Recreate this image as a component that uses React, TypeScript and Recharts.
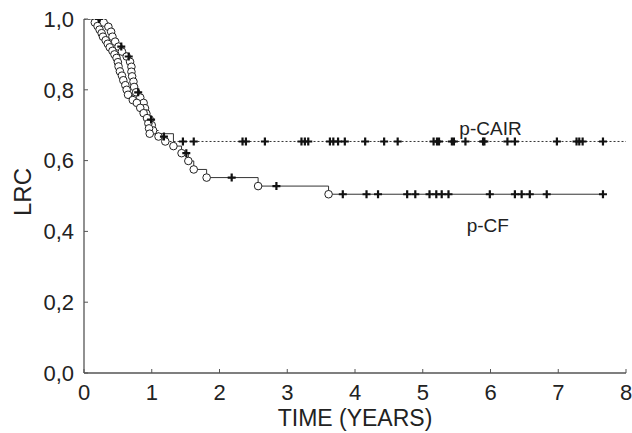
import React from 'react';
import {
  ComposedChart,
  Line,
  Scatter,
  XAxis,
  YAxis,
  ReferenceDot,
  Label,
} from 'recharts';

// Kaplan-Meier curves
const pcfTimes = [
  0.16, 0.2, 0.23, 0.26, 0.28, 0.32, 0.35, 0.38, 0.42, 0.45, 0.48, 0.5, 0.51, 0.53, 0.56, 0.58,
  0.61, 0.63, 0.65, 0.72, 0.78, 0.83, 0.88, 0.93, 0.95, 0.96, 0.97, 1.32, 1.44, 1.54, 1.62, 1.81,
  2.57, 3.61,
];
const pcfSurvival = [
  0.99, 0.98, 0.97, 0.96, 0.95, 0.94, 0.93, 0.92, 0.91, 0.9, 0.89, 0.878, 0.866, 0.852, 0.84, 0.827,
  0.813, 0.8, 0.786, 0.771, 0.763, 0.749, 0.734, 0.72, 0.705, 0.691, 0.676, 0.641, 0.621, 0.599,
  0.575, 0.552, 0.528, 0.505,
];
const pcfCensored = [
  1.51, 2.18, 2.84, 3.82, 4.17, 4.34, 4.77, 4.89, 5.1, 5.2, 5.28, 5.38, 5.99, 6.36, 6.46, 6.58, 6.83,
  7.66,
];
const pcfEnd = 7.66;

const pcairTimes = [
  0.29, 0.36, 0.4, 0.42, 0.46, 0.51, 0.56, 0.63, 0.68, 0.7, 0.7, 0.71, 0.73, 0.74, 0.77, 0.83, 0.88,
  0.9, 0.92, 0.97, 1.0, 1.02, 1.1, 1.2,
];
const pcairSurvival = [
  0.99, 0.978, 0.964, 0.95, 0.936, 0.922, 0.908, 0.894, 0.879, 0.865, 0.851, 0.838, 0.823, 0.808,
  0.793, 0.778, 0.763, 0.748, 0.733, 0.716, 0.7, 0.685, 0.668, 0.654,
];
const pcairCensored = [
  0.22, 0.55, 0.66, 0.8, 0.99, 1.18, 1.46, 1.62, 2.34, 2.39, 2.67, 3.21, 3.26, 3.31, 3.63, 3.68,
  3.75, 3.85, 4.15, 4.43, 4.63, 5.16, 5.21, 5.24, 5.43, 5.46, 5.63, 5.89, 5.91, 6.25, 6.36, 6.98,
  7.27, 7.31, 7.36, 7.66,
];
const pcairEnd = 8;

const xTicks = [0, 1, 2, 3, 4, 5, 6, 7, 8];
const yTicks = [0, 0.2, 0.4, 0.6, 0.8, 1.0];
// the frame's top and right ticks do not line up with the data scales
const topTicks = [1, 2, 3, 4, 5, 6, 7, 8];
const rightTicks = [1, 2, 3, 4, 5, 6, 7];

const levelAt = (times: number[], surv: number[], t: number) => {
  let s = 1;
  for (let i = 0; i < times.length; i++) if (times[i] <= t) s = surv[i];
  return s;
};

const curve = (times: number[], surv: number[], end: number) => [
  { t: 0, s: 1 },
  ...times.map((t, i) => ({ t, s: surv[i] })),
  { t: end, s: surv[surv.length - 1] },
];
const events = (times: number[], surv: number[]) => times.map((t, i) => ({ t, s: surv[i] }));
const censored = (list: number[], times: number[], surv: number[]) =>
  list.map((t) => ({ t, s: levelAt(times, surv, t) }));

const font = '"Liberation Sans", Arial, Helvetica, sans-serif';
const axisColor = '#555';

const OpenCircle = (props: any) => (
  <circle cx={props.cx} cy={props.cy} r={3.8} fill="#fff" stroke="#222" strokeWidth={1} />
);
const Plus = (props: any) => (
  <path
    d={`M${props.cx - 4},${props.cy}H${props.cx + 4}M${props.cx},${props.cy - 4}V${props.cy + 4}`}
    stroke="#111"
    strokeWidth={2.2}
    fill="none"
  />
);

const YTitle = (props: any) => {
  const { viewBox } = props;
  const x = viewBox.x + 22;
  const y = viewBox.y + viewBox.height / 2 - 4;
  return (
    <text x={x} y={y} transform={`rotate(-90 ${x} ${y})`} textAnchor="middle" dominantBaseline="central"
      fontFamily={font} fontSize={24} fill="#222">LRC</text>
  );
};
const XTitle = (props: any) => {
  const { viewBox } = props;
  return (
    <text x={viewBox.x + viewBox.width / 2} y={viewBox.y + 45} textAnchor="middle" dominantBaseline="central"
      fontFamily={font} fontSize={23} fill="#222">TIME (YEARS)</text>
  );
};

export default function App() {
  const tickStyle = { fontFamily: font, fontSize: 22, fill: '#222' };
  return (
    <div style={{ position: 'absolute', left: 0, top: 0 }}>
      <ComposedChart width={632} height={433} margin={{ top: 19, right: 6, bottom: 0, left: 0 }}>
        <XAxis dataKey="t" type="number" domain={[0, 8]} ticks={xTicks} allowDataOverflow
          height={60} tickSize={-4} tickMargin={15} tick={tickStyle}
          axisLine={{ stroke: axisColor, strokeWidth: 1.3 }} tickLine={{ stroke: axisColor }}>
          <Label content={<XTitle />} />
        </XAxis>
        <XAxis xAxisId="top" orientation="top" type="number" domain={[-0.24, 8.97]} ticks={topTicks}
          allowDataOverflow height={0} tickSize={-4} tick={false}
          axisLine={{ stroke: axisColor, strokeWidth: 1.3 }} tickLine={{ stroke: axisColor }} />
        <YAxis dataKey="s" type="number" domain={[0, 1]} ticks={yTicks} allowDataOverflow width={84}
          tickSize={-4} tickMargin={14} tick={tickStyle}
          tickFormatter={(v: number) => v.toFixed(1).replace('.', ',')}
          axisLine={{ stroke: axisColor, strokeWidth: 1.3 }} tickLine={{ stroke: axisColor }}>
          <Label content={<YTitle />} />
        </YAxis>
        <YAxis yAxisId="right" orientation="right" type="number" domain={[0.818, 7.277]} ticks={rightTicks}
          allowDataOverflow width={0} tickSize={-4} tick={false}
          axisLine={{ stroke: axisColor, strokeWidth: 1.3 }} tickLine={{ stroke: axisColor }} />

        <Line data={curve(pcairTimes, pcairSurvival, pcairEnd)} dataKey="s" type="stepAfter"
          stroke="#333" strokeWidth={1} strokeDasharray="2 2" dot={false} activeDot={false}
          isAnimationActive={false} />
        <Line data={curve(pcfTimes, pcfSurvival, pcfEnd)} dataKey="s" type="stepAfter"
          stroke="#333" strokeWidth={1} dot={false} activeDot={false} isAnimationActive={false} />

        <Scatter data={events(pcairTimes, pcairSurvival)} dataKey="s" shape={<OpenCircle />} isAnimationActive={false} />
        <Scatter data={events(pcfTimes, pcfSurvival)} dataKey="s" shape={<OpenCircle />} isAnimationActive={false} />
        <Scatter data={censored(pcairCensored, pcairTimes, pcairSurvival)} dataKey="s" shape={<Plus />} isAnimationActive={false} />
        <Scatter data={censored(pcfCensored, pcfTimes, pcfSurvival)} dataKey="s" shape={<Plus />} isAnimationActive={false} />

        <ReferenceDot x={6.0} y={0.692} r={0} fill="none" stroke="none"
          label={{ value: 'p-CAIR', position: 'center', fontFamily: font, fontSize: 19, fill: '#222' }} />
        <ReferenceDot x={5.96} y={0.418} r={0} fill="none" stroke="none"
          label={{ value: 'p-CF', position: 'center', fontFamily: font, fontSize: 19, fill: '#222' }} />
      </ComposedChart>
    </div>
  );
}
